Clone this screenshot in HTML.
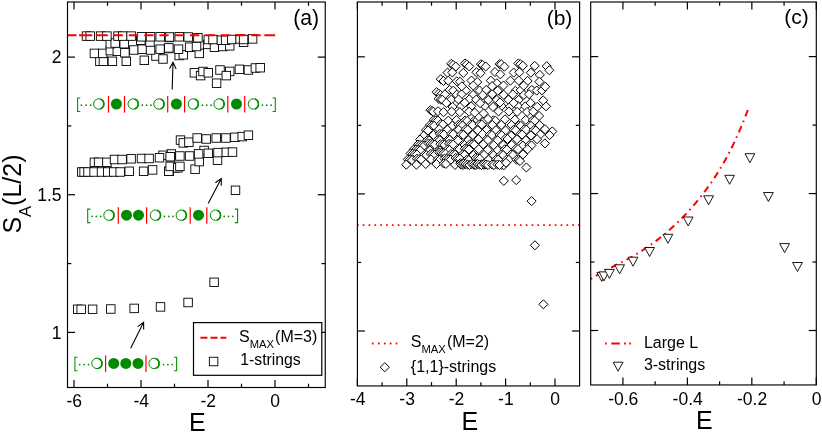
<!DOCTYPE html>
<html><head><meta charset="utf-8"><title>figure</title>
<style>html,body{margin:0;padding:0;background:#fff;}body{width:822px;height:433px;overflow:hidden;font-family:"Liberation Sans",sans-serif;}svg{display:block;will-change:transform;}</style></head>
<body>
<svg width="822" height="433" viewBox="0 0 822 433" font-family='"Liberation Sans", sans-serif'>
<rect width="822" height="433" fill="#fff"/>
<g fill="#fff" stroke="#000" stroke-width="0.9">
<rect x="73.45" y="305.05" width="8.5" height="8.5"/>
<rect x="76.95" y="305.05" width="8.5" height="8.5"/>
<rect x="88.35" y="305.05" width="8.5" height="8.5"/>
<rect x="106.55" y="304.75" width="8.5" height="8.5"/>
<rect x="129.95" y="304.15" width="8.5" height="8.5"/>
<rect x="156.25" y="302.65" width="8.5" height="8.5"/>
<rect x="183.85" y="298.25" width="8.5" height="8.5"/>
<rect x="209.85" y="278.05" width="8.5" height="8.5"/>
<rect x="231.25" y="186.05" width="8.5" height="8.5"/>
<rect x="95.65" y="57.05" width="8.5" height="8.5"/>
<rect x="99.15" y="57.05" width="8.5" height="8.5"/>
<rect x="108.15" y="57.05" width="8.5" height="8.5"/>
<rect x="122.05" y="57.05" width="8.5" height="8.5"/>
<rect x="140.05" y="56.05" width="8.5" height="8.5"/>
<rect x="151.75" y="51.75" width="8.5" height="8.5"/>
<rect x="158.75" y="54.75" width="8.5" height="8.5"/>
<rect x="90.15" y="49.15" width="8.5" height="8.5"/>
<rect x="98.45" y="49.15" width="8.5" height="8.5"/>
<rect x="106.05" y="46.35" width="8.5" height="8.5"/>
<rect x="113.05" y="47.05" width="8.5" height="8.5"/>
<rect x="120.65" y="48.45" width="8.5" height="8.5"/>
<rect x="129.65" y="45.75" width="8.5" height="8.5"/>
<rect x="137.95" y="44.95" width="8.5" height="8.5"/>
<rect x="146.25" y="45.75" width="8.5" height="8.5"/>
<rect x="155.95" y="44.95" width="8.5" height="8.5"/>
<rect x="164.25" y="44.25" width="8.5" height="8.5"/>
<rect x="106.05" y="39.45" width="8.5" height="8.5"/>
<rect x="110.95" y="38.75" width="8.5" height="8.5"/>
<rect x="119.95" y="39.45" width="8.5" height="8.5"/>
<rect x="136.55" y="35.95" width="8.5" height="8.5"/>
<rect x="145.75" y="37.75" width="8.5" height="8.5"/>
<rect x="82.25" y="31.85" width="8.5" height="8.5"/>
<rect x="85.95" y="31.85" width="8.5" height="8.5"/>
<rect x="96.35" y="31.85" width="8.5" height="8.5"/>
<rect x="102.65" y="31.85" width="8.5" height="8.5"/>
<rect x="113.75" y="31.85" width="8.5" height="8.5"/>
<rect x="118.55" y="31.85" width="8.5" height="8.5"/>
<rect x="126.85" y="31.85" width="8.5" height="8.5"/>
<rect x="137.25" y="32.55" width="8.5" height="8.5"/>
<rect x="146.25" y="32.55" width="8.5" height="8.5"/>
<rect x="155.95" y="32.55" width="8.5" height="8.5"/>
<rect x="164.95" y="33.25" width="8.5" height="8.5"/>
<rect x="174.95" y="51.25" width="8.5" height="8.5"/>
<rect x="179.05" y="50.55" width="8.5" height="8.5"/>
<rect x="195.05" y="49.15" width="8.5" height="8.5"/>
<rect x="164.55" y="43.65" width="8.5" height="8.5"/>
<rect x="174.25" y="44.95" width="8.5" height="8.5"/>
<rect x="185.35" y="42.95" width="8.5" height="8.5"/>
<rect x="192.25" y="42.25" width="8.5" height="8.5"/>
<rect x="203.35" y="40.15" width="8.5" height="8.5"/>
<rect x="210.25" y="42.95" width="8.5" height="8.5"/>
<rect x="218.55" y="42.25" width="8.5" height="8.5"/>
<rect x="225.45" y="41.55" width="8.5" height="8.5"/>
<rect x="239.35" y="38.05" width="8.5" height="8.5"/>
<rect x="165.25" y="32.75" width="8.5" height="8.5"/>
<rect x="174.95" y="32.55" width="8.5" height="8.5"/>
<rect x="183.95" y="32.75" width="8.5" height="8.5"/>
<rect x="193.65" y="33.55" width="8.5" height="8.5"/>
<rect x="204.05" y="35.25" width="8.5" height="8.5"/>
<rect x="208.75" y="35.25" width="8.5" height="8.5"/>
<rect x="217.15" y="35.95" width="8.5" height="8.5"/>
<rect x="221.35" y="35.95" width="8.5" height="8.5"/>
<rect x="227.55" y="35.25" width="8.5" height="8.5"/>
<rect x="235.85" y="34.65" width="8.5" height="8.5"/>
<rect x="239.35" y="35.25" width="8.5" height="8.5"/>
<rect x="248.35" y="34.65" width="8.5" height="8.5"/>
<rect x="212.35" y="78.95" width="8.5" height="8.5"/>
<rect x="190.15" y="68.55" width="8.5" height="8.5"/>
<rect x="196.35" y="71.35" width="8.5" height="8.5"/>
<rect x="198.75" y="67.25" width="8.5" height="8.5"/>
<rect x="204.05" y="68.55" width="8.5" height="8.5"/>
<rect x="215.75" y="65.75" width="8.5" height="8.5"/>
<rect x="225.45" y="67.15" width="8.5" height="8.5"/>
<rect x="222.05" y="71.35" width="8.5" height="8.5"/>
<rect x="235.15" y="65.05" width="8.5" height="8.5"/>
<rect x="244.15" y="65.75" width="8.5" height="8.5"/>
<rect x="251.15" y="63.75" width="8.5" height="8.5"/>
<rect x="255.95" y="63.45" width="8.5" height="8.5"/>
<rect x="77.45" y="167.75" width="8.5" height="8.5"/>
<rect x="79.85" y="167.75" width="8.5" height="8.5"/>
<rect x="83.75" y="167.75" width="8.5" height="8.5"/>
<rect x="89.85" y="167.75" width="8.5" height="8.5"/>
<rect x="97.25" y="167.75" width="8.5" height="8.5"/>
<rect x="103.45" y="167.75" width="8.5" height="8.5"/>
<rect x="109.55" y="167.75" width="8.5" height="8.5"/>
<rect x="115.95" y="167.75" width="8.5" height="8.5"/>
<rect x="124.95" y="167.05" width="8.5" height="8.5"/>
<rect x="139.35" y="167.05" width="8.5" height="8.5"/>
<rect x="148.35" y="165.65" width="8.5" height="8.5"/>
<rect x="164.95" y="167.05" width="8.5" height="8.5"/>
<rect x="171.15" y="163.55" width="8.5" height="8.5"/>
<rect x="90.15" y="158.05" width="8.5" height="8.5"/>
<rect x="94.35" y="158.05" width="8.5" height="8.5"/>
<rect x="102.65" y="158.05" width="8.5" height="8.5"/>
<rect x="110.25" y="155.25" width="8.5" height="8.5"/>
<rect x="117.85" y="155.25" width="8.5" height="8.5"/>
<rect x="126.85" y="154.55" width="8.5" height="8.5"/>
<rect x="137.25" y="154.25" width="8.5" height="8.5"/>
<rect x="144.85" y="154.25" width="8.5" height="8.5"/>
<rect x="167.05" y="149.75" width="8.5" height="8.5"/>
<rect x="158.75" y="151.05" width="8.5" height="8.5"/>
<rect x="155.25" y="153.45" width="8.5" height="8.5"/>
<rect x="166.35" y="152.45" width="8.5" height="8.5"/>
<rect x="164.55" y="167.05" width="8.5" height="8.5"/>
<rect x="165.95" y="162.15" width="8.5" height="8.5"/>
<rect x="173.55" y="163.55" width="8.5" height="8.5"/>
<rect x="175.65" y="162.15" width="8.5" height="8.5"/>
<rect x="190.85" y="164.95" width="8.5" height="8.5"/>
<rect x="213.25" y="155.95" width="8.5" height="8.5"/>
<rect x="194.95" y="157.35" width="8.5" height="8.5"/>
<rect x="165.95" y="152.45" width="8.5" height="8.5"/>
<rect x="175.65" y="151.75" width="8.5" height="8.5"/>
<rect x="185.35" y="151.75" width="8.5" height="8.5"/>
<rect x="199.85" y="146.25" width="8.5" height="8.5"/>
<rect x="194.35" y="149.65" width="8.5" height="8.5"/>
<rect x="204.05" y="149.05" width="8.5" height="8.5"/>
<rect x="213.75" y="148.35" width="8.5" height="8.5"/>
<rect x="222.05" y="148.05" width="8.5" height="8.5"/>
<rect x="228.25" y="147.85" width="8.5" height="8.5"/>
<rect x="176.25" y="135.85" width="8.5" height="8.5"/>
<rect x="179.05" y="138.65" width="8.5" height="8.5"/>
<rect x="184.65" y="137.95" width="8.5" height="8.5"/>
<rect x="192.95" y="133.75" width="8.5" height="8.5"/>
<rect x="201.95" y="134.75" width="8.5" height="8.5"/>
<rect x="211.95" y="133.75" width="8.5" height="8.5"/>
<rect x="221.65" y="133.75" width="8.5" height="8.5"/>
<rect x="230.65" y="133.05" width="8.5" height="8.5"/>
<rect x="237.95" y="132.35" width="8.5" height="8.5"/>
<rect x="244.15" y="130.95" width="8.5" height="8.5"/>
</g>
<path d="M67.0 35.23H76.5M79.1 35.23H92.3M96.2 35.23H107.8M113.4 35.23H122.9M128.8 35.23H138.2M144.3 35.23H153.5M159.4 35.23H168.6M174.9 35.23H184.2M190.0 35.23H199.3M205.3 35.23H214.8M220.6 35.23H229.8M236.0 35.23H245.4M251.3 35.23H260.7M264.4 35.23H275.1" stroke="#f00" stroke-width="2.1" fill="none"/>
<rect x="67.50" y="2.00" width="257.75" height="385.50" fill="none" stroke="#000" stroke-width="1.15"/>
<line x1="74.00" y1="387.50" x2="74.00" y2="380.00" stroke="#000" stroke-width="1.2" />
<line x1="74.00" y1="2.00" x2="74.00" y2="9.50" stroke="#000" stroke-width="1.2" />
<line x1="141.00" y1="387.50" x2="141.00" y2="380.00" stroke="#000" stroke-width="1.2" />
<line x1="141.00" y1="2.00" x2="141.00" y2="9.50" stroke="#000" stroke-width="1.2" />
<line x1="208.00" y1="387.50" x2="208.00" y2="380.00" stroke="#000" stroke-width="1.2" />
<line x1="208.00" y1="2.00" x2="208.00" y2="9.50" stroke="#000" stroke-width="1.2" />
<line x1="275.00" y1="387.50" x2="275.00" y2="380.00" stroke="#000" stroke-width="1.2" />
<line x1="275.00" y1="2.00" x2="275.00" y2="9.50" stroke="#000" stroke-width="1.2" />
<line x1="107.50" y1="387.50" x2="107.50" y2="383.70" stroke="#000" stroke-width="1.2" />
<line x1="107.50" y1="2.00" x2="107.50" y2="5.80" stroke="#000" stroke-width="1.2" />
<line x1="174.50" y1="387.50" x2="174.50" y2="383.70" stroke="#000" stroke-width="1.2" />
<line x1="174.50" y1="2.00" x2="174.50" y2="5.80" stroke="#000" stroke-width="1.2" />
<line x1="241.50" y1="387.50" x2="241.50" y2="383.70" stroke="#000" stroke-width="1.2" />
<line x1="241.50" y1="2.00" x2="241.50" y2="5.80" stroke="#000" stroke-width="1.2" />
<line x1="308.50" y1="387.50" x2="308.50" y2="383.70" stroke="#000" stroke-width="1.2" />
<line x1="308.50" y1="2.00" x2="308.50" y2="5.80" stroke="#000" stroke-width="1.2" />
<line x1="67.50" y1="332.40" x2="75.00" y2="332.40" stroke="#000" stroke-width="1.2" />
<line x1="325.25" y1="332.40" x2="317.75" y2="332.40" stroke="#000" stroke-width="1.2" />
<line x1="67.50" y1="194.75" x2="75.00" y2="194.75" stroke="#000" stroke-width="1.2" />
<line x1="325.25" y1="194.75" x2="317.75" y2="194.75" stroke="#000" stroke-width="1.2" />
<line x1="67.50" y1="57.10" x2="75.00" y2="57.10" stroke="#000" stroke-width="1.2" />
<line x1="325.25" y1="57.10" x2="317.75" y2="57.10" stroke="#000" stroke-width="1.2" />
<line x1="67.50" y1="263.58" x2="71.30" y2="263.58" stroke="#000" stroke-width="1.2" />
<line x1="325.25" y1="263.58" x2="321.45" y2="263.58" stroke="#000" stroke-width="1.2" />
<line x1="67.50" y1="125.93" x2="71.30" y2="125.93" stroke="#000" stroke-width="1.2" />
<line x1="325.25" y1="125.93" x2="321.45" y2="125.93" stroke="#000" stroke-width="1.2" />
<text x="74.30" y="406.90" font-size="17.5" text-anchor="middle" fill="#000" >-6</text>
<text x="141.30" y="406.90" font-size="17.5" text-anchor="middle" fill="#000" >-4</text>
<text x="208.30" y="406.90" font-size="17.5" text-anchor="middle" fill="#000" >-2</text>
<text x="275.00" y="406.90" font-size="17.5" text-anchor="middle" fill="#000" >0</text>
<text x="61.60" y="63.40" font-size="17.5" text-anchor="end" fill="#000" >2</text>
<text x="61.60" y="201.05" font-size="17.5" text-anchor="end" fill="#000" >1.5</text>
<text x="61.60" y="338.70" font-size="17.5" text-anchor="end" fill="#000" >1</text>
<text x="197.30" y="431.10" font-size="25" text-anchor="middle" fill="#000" >E</text>
<text x="306.20" y="24.80" font-size="21.2" text-anchor="middle" fill="#000" >(a)</text>
<text transform="translate(21.2 233.6) rotate(-90)" font-size="25" fill="#000">S<tspan font-size="16.5" dy="9.6">A</tspan><tspan dy="-9.6">(L/2)</tspan></text>
<path d="M172.20 89.40L173.00 62.30M176.12 68.90L173.00 62.30L169.50 68.70" fill="none" stroke="#000" stroke-width="1.1"/>
<path d="M208.20 203.50L221.30 178.50M221.22 185.80L221.30 178.50L215.35 182.72" fill="none" stroke="#000" stroke-width="1.1"/>
<path d="M130.70 348.30L143.60 322.30M143.68 329.60L143.60 322.30L137.74 326.65" fill="none" stroke="#000" stroke-width="1.1"/>
<path d="M80.30 97.90H77.60V111.40H80.30" fill="none" stroke="#008b00" stroke-width="1.05"/>
<circle cx="81.40" cy="105.20" r="0.85" fill="#008b00"/>
<circle cx="86.10" cy="105.20" r="0.85" fill="#008b00"/>
<circle cx="90.70" cy="105.20" r="0.85" fill="#008b00"/>
<circle cx="98.80" cy="104.00" r="5.2" fill="#fff" stroke="#008b00" stroke-width="1.0"/>
<path d="M100.30 99.10A5.2 5.2 0 0 1 100.30 108.90" fill="none" stroke="#008b00" stroke-width="1.6"/>
<line x1="108.50" y1="96.00" x2="108.50" y2="112.60" stroke="#f00" stroke-width="1.2"/>
<circle cx="116.40" cy="104.00" r="5.5" fill="#008b00"/>
<line x1="124.50" y1="96.00" x2="124.50" y2="112.60" stroke="#f00" stroke-width="1.2"/>
<circle cx="133.20" cy="104.00" r="5.2" fill="#fff" stroke="#008b00" stroke-width="1.0"/>
<path d="M134.70 99.10A5.2 5.2 0 0 1 134.70 108.90" fill="none" stroke="#008b00" stroke-width="1.6"/>
<circle cx="142.30" cy="105.20" r="0.85" fill="#008b00"/>
<circle cx="146.60" cy="105.20" r="0.85" fill="#008b00"/>
<circle cx="151.00" cy="105.20" r="0.85" fill="#008b00"/>
<circle cx="159.00" cy="104.00" r="5.2" fill="#fff" stroke="#008b00" stroke-width="1.0"/>
<path d="M160.50 99.10A5.2 5.2 0 0 1 160.50 108.90" fill="none" stroke="#008b00" stroke-width="1.6"/>
<line x1="167.70" y1="96.00" x2="167.70" y2="112.60" stroke="#f00" stroke-width="1.2"/>
<circle cx="176.40" cy="104.00" r="5.5" fill="#008b00"/>
<line x1="184.60" y1="96.00" x2="184.60" y2="112.60" stroke="#f00" stroke-width="1.2"/>
<circle cx="193.30" cy="104.00" r="5.2" fill="#fff" stroke="#008b00" stroke-width="1.0"/>
<path d="M194.80 99.10A5.2 5.2 0 0 1 194.80 108.90" fill="none" stroke="#008b00" stroke-width="1.6"/>
<circle cx="202.40" cy="105.20" r="0.85" fill="#008b00"/>
<circle cx="206.70" cy="105.20" r="0.85" fill="#008b00"/>
<circle cx="211.10" cy="105.20" r="0.85" fill="#008b00"/>
<circle cx="219.10" cy="104.00" r="5.2" fill="#fff" stroke="#008b00" stroke-width="1.0"/>
<path d="M220.60 99.10A5.2 5.2 0 0 1 220.60 108.90" fill="none" stroke="#008b00" stroke-width="1.6"/>
<line x1="227.80" y1="96.00" x2="227.80" y2="112.60" stroke="#f00" stroke-width="1.2"/>
<circle cx="236.50" cy="104.00" r="5.5" fill="#008b00"/>
<line x1="244.70" y1="96.00" x2="244.70" y2="112.60" stroke="#f00" stroke-width="1.2"/>
<circle cx="253.40" cy="104.00" r="5.2" fill="#fff" stroke="#008b00" stroke-width="1.0"/>
<path d="M254.90 99.10A5.2 5.2 0 0 1 254.90 108.90" fill="none" stroke="#008b00" stroke-width="1.6"/>
<circle cx="262.40" cy="105.20" r="0.85" fill="#008b00"/>
<circle cx="266.70" cy="105.20" r="0.85" fill="#008b00"/>
<circle cx="271.10" cy="105.20" r="0.85" fill="#008b00"/>
<path d="M272.60 97.90H275.30V111.40H272.60" fill="none" stroke="#008b00" stroke-width="1.05"/>
<path d="M90.40 209.10H87.70V222.60H90.40" fill="none" stroke="#008b00" stroke-width="1.05"/>
<circle cx="92.00" cy="216.40" r="0.85" fill="#008b00"/>
<circle cx="96.30" cy="216.40" r="0.85" fill="#008b00"/>
<circle cx="100.70" cy="216.40" r="0.85" fill="#008b00"/>
<circle cx="109.00" cy="215.20" r="5.2" fill="#fff" stroke="#008b00" stroke-width="1.0"/>
<path d="M110.50 210.30A5.2 5.2 0 0 1 110.50 220.10" fill="none" stroke="#008b00" stroke-width="1.6"/>
<line x1="118.30" y1="207.20" x2="118.30" y2="223.80" stroke="#f00" stroke-width="1.2"/>
<circle cx="126.50" cy="215.20" r="5.5" fill="#008b00"/>
<circle cx="138.50" cy="215.20" r="5.5" fill="#008b00"/>
<line x1="146.60" y1="207.20" x2="146.60" y2="223.80" stroke="#f00" stroke-width="1.2"/>
<circle cx="155.50" cy="215.20" r="5.2" fill="#fff" stroke="#008b00" stroke-width="1.0"/>
<path d="M157.00 210.30A5.2 5.2 0 0 1 157.00 220.10" fill="none" stroke="#008b00" stroke-width="1.6"/>
<circle cx="164.40" cy="216.40" r="0.85" fill="#008b00"/>
<circle cx="168.70" cy="216.40" r="0.85" fill="#008b00"/>
<circle cx="173.10" cy="216.40" r="0.85" fill="#008b00"/>
<circle cx="181.30" cy="215.20" r="5.2" fill="#fff" stroke="#008b00" stroke-width="1.0"/>
<path d="M182.80 210.30A5.2 5.2 0 0 1 182.80 220.10" fill="none" stroke="#008b00" stroke-width="1.6"/>
<line x1="190.20" y1="207.20" x2="190.20" y2="223.80" stroke="#f00" stroke-width="1.2"/>
<circle cx="198.50" cy="215.20" r="5.5" fill="#008b00"/>
<line x1="206.80" y1="207.20" x2="206.80" y2="223.80" stroke="#f00" stroke-width="1.2"/>
<circle cx="215.50" cy="215.20" r="5.2" fill="#fff" stroke="#008b00" stroke-width="1.0"/>
<path d="M217.00 210.30A5.2 5.2 0 0 1 217.00 220.10" fill="none" stroke="#008b00" stroke-width="1.6"/>
<circle cx="224.20" cy="216.40" r="0.85" fill="#008b00"/>
<circle cx="228.50" cy="216.40" r="0.85" fill="#008b00"/>
<circle cx="232.90" cy="216.40" r="0.85" fill="#008b00"/>
<path d="M234.90 209.10H237.60V222.60H234.90" fill="none" stroke="#008b00" stroke-width="1.05"/>
<path d="M77.60 357.30H74.90V370.80H77.60" fill="none" stroke="#008b00" stroke-width="1.05"/>
<circle cx="79.70" cy="364.60" r="0.85" fill="#008b00"/>
<circle cx="84.10" cy="364.60" r="0.85" fill="#008b00"/>
<circle cx="88.60" cy="364.60" r="0.85" fill="#008b00"/>
<circle cx="97.00" cy="363.40" r="5.2" fill="#fff" stroke="#008b00" stroke-width="1.0"/>
<path d="M98.50 358.50A5.2 5.2 0 0 1 98.50 368.30" fill="none" stroke="#008b00" stroke-width="1.6"/>
<line x1="105.60" y1="355.40" x2="105.60" y2="372.00" stroke="#f00" stroke-width="1.2"/>
<circle cx="113.70" cy="363.40" r="5.5" fill="#008b00"/>
<circle cx="125.80" cy="363.40" r="5.5" fill="#008b00"/>
<circle cx="138.00" cy="363.40" r="5.5" fill="#008b00"/>
<line x1="146.00" y1="355.40" x2="146.00" y2="372.00" stroke="#f00" stroke-width="1.2"/>
<circle cx="154.10" cy="363.40" r="5.2" fill="#fff" stroke="#008b00" stroke-width="1.0"/>
<path d="M155.60 358.50A5.2 5.2 0 0 1 155.60 368.30" fill="none" stroke="#008b00" stroke-width="1.6"/>
<circle cx="163.50" cy="364.60" r="0.85" fill="#008b00"/>
<circle cx="167.90" cy="364.60" r="0.85" fill="#008b00"/>
<circle cx="172.20" cy="364.60" r="0.85" fill="#008b00"/>
<path d="M173.90 357.30H176.60V370.80H173.90" fill="none" stroke="#008b00" stroke-width="1.05"/>
<rect x="193.5" y="322.6" width="128.3" height="52.7" fill="#fff" stroke="#000" stroke-width="1.2"/>
<path d="M200.4 337.8H207.4M210.5 337.8H217.5M220.5 337.8H226.3" stroke="#f00" stroke-width="2.1" fill="none"/>
<g fill="#fff" stroke="#000" stroke-width="0.9">
<rect x="209.35" y="357.25" width="8.5" height="8.5"/>
</g>
<text x="239" y="341.6" font-size="16" fill="#000">S<tspan font-size="11.2" dy="6.6">MAX</tspan><tspan dy="-6.6" dx="1.2">(M=3)</tspan></text>
<text x="240.20" y="365.20" font-size="15.8" text-anchor="start" fill="#000" >1-strings</text>
<g fill="#f00">
<rect x="356.95" y="224.23" width="1.7" height="1.7"/>
<rect x="362.77" y="224.23" width="1.7" height="1.7"/>
<rect x="368.59" y="224.23" width="1.7" height="1.7"/>
<rect x="374.41" y="224.23" width="1.7" height="1.7"/>
<rect x="380.23" y="224.23" width="1.7" height="1.7"/>
<rect x="386.05" y="224.23" width="1.7" height="1.7"/>
<rect x="391.87" y="224.23" width="1.7" height="1.7"/>
<rect x="397.69" y="224.23" width="1.7" height="1.7"/>
<rect x="403.51" y="224.23" width="1.7" height="1.7"/>
<rect x="409.33" y="224.23" width="1.7" height="1.7"/>
<rect x="415.15" y="224.23" width="1.7" height="1.7"/>
<rect x="420.97" y="224.23" width="1.7" height="1.7"/>
<rect x="426.79" y="224.23" width="1.7" height="1.7"/>
<rect x="432.61" y="224.23" width="1.7" height="1.7"/>
<rect x="438.43" y="224.23" width="1.7" height="1.7"/>
<rect x="444.25" y="224.23" width="1.7" height="1.7"/>
<rect x="450.07" y="224.23" width="1.7" height="1.7"/>
<rect x="455.89" y="224.23" width="1.7" height="1.7"/>
<rect x="461.71" y="224.23" width="1.7" height="1.7"/>
<rect x="467.53" y="224.23" width="1.7" height="1.7"/>
<rect x="473.35" y="224.23" width="1.7" height="1.7"/>
<rect x="479.17" y="224.23" width="1.7" height="1.7"/>
<rect x="484.99" y="224.23" width="1.7" height="1.7"/>
<rect x="490.81" y="224.23" width="1.7" height="1.7"/>
<rect x="496.63" y="224.23" width="1.7" height="1.7"/>
<rect x="502.45" y="224.23" width="1.7" height="1.7"/>
<rect x="508.27" y="224.23" width="1.7" height="1.7"/>
<rect x="514.09" y="224.23" width="1.7" height="1.7"/>
<rect x="519.91" y="224.23" width="1.7" height="1.7"/>
<rect x="525.73" y="224.23" width="1.7" height="1.7"/>
<rect x="531.55" y="224.23" width="1.7" height="1.7"/>
<rect x="537.37" y="224.23" width="1.7" height="1.7"/>
<rect x="543.19" y="224.23" width="1.7" height="1.7"/>
<rect x="549.01" y="224.23" width="1.7" height="1.7"/>
<rect x="554.83" y="224.23" width="1.7" height="1.7"/>
<rect x="560.65" y="224.23" width="1.7" height="1.7"/>
<rect x="566.47" y="224.23" width="1.7" height="1.7"/>
<rect x="572.29" y="224.23" width="1.7" height="1.7"/>
<rect x="578.11" y="224.23" width="1.7" height="1.7"/>
</g>
<g fill="#fff" stroke="#000" stroke-width="1.0">
<path d="M433.82 115.39L438.37 119.94L433.82 124.49L429.27 119.94Z"/>
<path d="M435.92 115.74L440.47 120.29L435.92 124.84L431.37 120.29Z"/>
<path d="M438.02 116.09L442.57 120.64L438.02 125.19L433.47 120.64Z"/>
<path d="M448.30 116.08L452.85 120.63L448.30 125.18L443.75 120.63Z"/>
<path d="M456.35 115.59L460.90 120.14L456.35 124.69L451.80 120.14Z"/>
<path d="M465.07 116.02L469.62 120.57L465.07 125.12L460.52 120.57Z"/>
<path d="M467.17 116.37L471.72 120.92L467.17 125.47L462.62 120.92Z"/>
<path d="M475.16 115.09L479.71 119.64L475.16 124.19L470.61 119.64Z"/>
<path d="M477.26 115.44L481.81 119.99L477.26 124.54L472.71 119.99Z"/>
<path d="M483.32 114.79L487.87 119.34L483.32 123.89L478.77 119.34Z"/>
<path d="M485.42 115.14L489.97 119.69L485.42 124.24L480.87 119.69Z"/>
<path d="M493.29 115.83L497.84 120.38L493.29 124.93L488.74 120.38Z"/>
<path d="M495.39 116.18L499.94 120.73L495.39 125.28L490.84 120.73Z"/>
<path d="M505.03 114.75L509.58 119.30L505.03 123.85L500.48 119.30Z"/>
<path d="M514.88 115.14L519.43 119.69L514.88 124.24L510.33 119.69Z"/>
<path d="M525.77 115.27L530.32 119.82L525.77 124.37L521.22 119.82Z"/>
<path d="M532.77 115.62L537.32 120.17L532.77 124.72L528.22 120.17Z"/>
<path d="M534.87 115.97L539.42 120.52L534.87 125.07L530.32 120.52Z"/>
<path d="M429.94 120.56L434.49 125.11L429.94 129.66L425.39 125.11Z"/>
<path d="M432.04 120.91L436.59 125.46L432.04 130.01L427.49 125.46Z"/>
<path d="M434.14 121.26L438.69 125.81L434.14 130.36L429.59 125.81Z"/>
<path d="M440.65 119.60L445.20 124.15L440.65 128.70L436.10 124.15Z"/>
<path d="M442.75 119.95L447.30 124.50L442.75 129.05L438.20 124.50Z"/>
<path d="M452.40 121.12L456.95 125.67L452.40 130.22L447.85 125.67Z"/>
<path d="M458.37 120.22L462.92 124.77L458.37 129.32L453.82 124.77Z"/>
<path d="M460.47 120.57L465.02 125.12L460.47 129.67L455.92 125.12Z"/>
<path d="M462.57 120.92L467.12 125.47L462.57 130.02L458.02 125.47Z"/>
<path d="M470.57 120.17L475.12 124.72L470.57 129.27L466.02 124.72Z"/>
<path d="M472.67 120.52L477.22 125.07L472.67 129.62L468.12 125.07Z"/>
<path d="M479.65 119.62L484.20 124.17L479.65 128.72L475.10 124.17Z"/>
<path d="M481.75 119.97L486.30 124.52L481.75 129.07L477.20 124.52Z"/>
<path d="M492.31 120.29L496.86 124.84L492.31 129.39L487.76 124.84Z"/>
<path d="M501.29 120.40L505.84 124.95L501.29 129.50L496.74 124.95Z"/>
<path d="M511.51 120.47L516.06 125.02L511.51 129.57L506.96 125.02Z"/>
<path d="M518.72 121.02L523.27 125.57L518.72 130.12L514.17 125.57Z"/>
<path d="M520.82 121.37L525.37 125.92L520.82 130.47L516.27 125.92Z"/>
<path d="M531.07 121.35L535.62 125.90L531.07 130.45L526.52 125.90Z"/>
<path d="M539.74 120.59L544.29 125.14L539.74 129.69L535.19 125.14Z"/>
<path d="M425.99 125.55L430.54 130.10L425.99 134.65L421.44 130.10Z"/>
<path d="M428.09 125.90L432.64 130.45L428.09 135.00L423.54 130.45Z"/>
<path d="M439.15 124.62L443.70 129.17L439.15 133.72L434.60 129.17Z"/>
<path d="M447.46 125.16L452.01 129.71L447.46 134.26L442.91 129.71Z"/>
<path d="M458.65 125.16L463.20 129.71L458.65 134.26L454.10 129.71Z"/>
<path d="M465.58 124.76L470.13 129.31L465.58 133.86L461.03 129.31Z"/>
<path d="M467.68 125.11L472.23 129.66L467.68 134.21L463.13 129.66Z"/>
<path d="M477.84 125.68L482.39 130.23L477.84 134.78L473.29 130.23Z"/>
<path d="M486.66 125.42L491.21 129.97L486.66 134.52L482.11 129.97Z"/>
<path d="M495.95 125.63L500.50 130.18L495.95 134.73L491.40 130.18Z"/>
<path d="M505.56 125.88L510.11 130.43L505.56 134.98L501.01 130.43Z"/>
<path d="M513.55 125.37L518.10 129.92L513.55 134.47L509.00 129.92Z"/>
<path d="M515.65 125.72L520.20 130.27L515.65 134.82L511.10 130.27Z"/>
<path d="M524.24 124.80L528.79 129.35L524.24 133.90L519.69 129.35Z"/>
<path d="M526.34 125.15L530.89 129.70L526.34 134.25L521.79 129.70Z"/>
<path d="M533.63 125.62L538.18 130.17L533.63 134.72L529.08 130.17Z"/>
<path d="M535.73 125.97L540.28 130.52L535.73 135.07L531.18 130.52Z"/>
<path d="M544.97 124.66L549.52 129.21L544.97 133.76L540.42 129.21Z"/>
<path d="M423.65 131.11L428.20 135.66L423.65 140.21L419.10 135.66Z"/>
<path d="M433.40 130.39L437.95 134.94L433.40 139.49L428.85 134.94Z"/>
<path d="M439.84 129.32L444.39 133.87L439.84 138.42L435.29 133.87Z"/>
<path d="M441.94 129.67L446.49 134.22L441.94 138.77L437.39 134.22Z"/>
<path d="M444.04 130.02L448.59 134.57L444.04 139.12L439.49 134.57Z"/>
<path d="M451.13 129.36L455.68 133.91L451.13 138.46L446.58 133.91Z"/>
<path d="M453.23 129.71L457.78 134.26L453.23 138.81L448.68 134.26Z"/>
<path d="M461.23 130.00L465.78 134.55L461.23 139.10L456.68 134.55Z"/>
<path d="M463.33 130.35L467.88 134.90L463.33 139.45L458.78 134.90Z"/>
<path d="M472.79 130.38L477.34 134.93L472.79 139.48L468.24 134.93Z"/>
<path d="M482.51 129.56L487.06 134.11L482.51 138.66L477.96 134.11Z"/>
<path d="M489.84 130.16L494.39 134.71L489.84 139.26L485.29 134.71Z"/>
<path d="M491.94 130.51L496.49 135.06L491.94 139.61L487.39 135.06Z"/>
<path d="M499.55 130.37L504.10 134.92L499.55 139.47L495.00 134.92Z"/>
<path d="M501.65 130.72L506.20 135.27L501.65 139.82L497.10 135.27Z"/>
<path d="M511.18 131.22L515.73 135.77L511.18 140.32L506.63 135.77Z"/>
<path d="M520.02 129.71L524.57 134.26L520.02 138.81L515.47 134.26Z"/>
<path d="M522.12 130.06L526.67 134.61L522.12 139.16L517.57 134.61Z"/>
<path d="M530.95 130.84L535.50 135.39L530.95 139.94L526.40 135.39Z"/>
<path d="M540.29 129.97L544.84 134.52L540.29 139.07L535.74 134.52Z"/>
<path d="M420.11 134.99L424.66 139.54L420.11 144.09L415.56 139.54Z"/>
<path d="M427.12 135.69L431.67 140.24L427.12 144.79L422.57 140.24Z"/>
<path d="M429.22 136.04L433.77 140.59L429.22 145.14L424.67 140.59Z"/>
<path d="M439.87 135.59L444.42 140.14L439.87 144.69L435.32 140.14Z"/>
<path d="M449.72 135.28L454.27 139.83L449.72 144.38L445.17 139.83Z"/>
<path d="M458.00 135.86L462.55 140.41L458.00 144.96L453.45 140.41Z"/>
<path d="M468.26 135.59L472.81 140.14L468.26 144.69L463.71 140.14Z"/>
<path d="M478.41 134.66L482.96 139.21L478.41 143.76L473.86 139.21Z"/>
<path d="M487.85 135.55L492.40 140.10L487.85 144.65L483.30 140.10Z"/>
<path d="M497.62 135.74L502.17 140.29L497.62 144.84L493.07 140.29Z"/>
<path d="M505.40 134.05L509.95 138.60L505.40 143.15L500.85 138.60Z"/>
<path d="M507.50 134.40L512.05 138.95L507.50 143.50L502.95 138.95Z"/>
<path d="M517.02 134.68L521.57 139.23L517.02 143.78L512.47 139.23Z"/>
<path d="M525.92 135.64L530.47 140.19L525.92 144.74L521.37 140.19Z"/>
<path d="M537.06 134.65L541.61 139.20L537.06 143.75L532.51 139.20Z"/>
<path d="M418.00 139.94L422.55 144.49L418.00 149.04L413.45 144.49Z"/>
<path d="M420.10 140.29L424.65 144.84L420.10 149.39L415.55 144.84Z"/>
<path d="M422.20 140.64L426.75 145.19L422.20 149.74L417.65 145.19Z"/>
<path d="M424.30 140.99L428.85 145.54L424.30 150.09L419.75 145.54Z"/>
<path d="M428.49 138.95L433.04 143.50L428.49 148.05L423.94 143.50Z"/>
<path d="M430.59 139.30L435.14 143.85L430.59 148.40L426.04 143.85Z"/>
<path d="M432.69 139.65L437.24 144.20L432.69 148.75L428.14 144.20Z"/>
<path d="M434.79 140.00L439.34 144.55L434.79 149.10L430.24 144.55Z"/>
<path d="M440.40 139.61L444.95 144.16L440.40 148.71L435.85 144.16Z"/>
<path d="M442.50 139.96L447.05 144.51L442.50 149.06L437.95 144.51Z"/>
<path d="M444.60 140.31L449.15 144.86L444.60 149.41L440.05 144.86Z"/>
<path d="M449.00 139.28L453.55 143.83L449.00 148.38L444.45 143.83Z"/>
<path d="M451.10 139.63L455.65 144.18L451.10 148.73L446.55 144.18Z"/>
<path d="M453.20 139.98L457.75 144.53L453.20 149.08L448.65 144.53Z"/>
<path d="M464.46 140.49L469.01 145.04L464.46 149.59L459.91 145.04Z"/>
<path d="M470.14 139.54L474.69 144.09L470.14 148.64L465.59 144.09Z"/>
<path d="M472.24 139.89L476.79 144.44L472.24 148.99L467.69 144.44Z"/>
<path d="M474.34 140.24L478.89 144.79L474.34 149.34L469.79 144.79Z"/>
<path d="M483.28 139.86L487.83 144.41L483.28 148.96L478.73 144.41Z"/>
<path d="M493.72 140.72L498.27 145.27L493.72 149.82L489.17 145.27Z"/>
<path d="M503.16 140.41L507.71 144.96L503.16 149.51L498.61 144.96Z"/>
<path d="M511.66 140.32L516.21 144.87L511.66 149.42L507.11 144.87Z"/>
<path d="M522.82 140.99L527.37 145.54L522.82 150.09L518.27 145.54Z"/>
<path d="M529.33 140.51L533.88 145.06L529.33 149.61L524.78 145.06Z"/>
<path d="M531.43 140.86L535.98 145.41L531.43 149.96L526.88 145.41Z"/>
<path d="M413.89 144.75L418.44 149.30L413.89 153.85L409.34 149.30Z"/>
<path d="M415.99 145.10L420.54 149.65L415.99 154.20L411.44 149.65Z"/>
<path d="M418.09 145.45L422.64 150.00L418.09 154.55L413.54 150.00Z"/>
<path d="M420.19 145.80L424.74 150.35L420.19 154.90L415.64 150.35Z"/>
<path d="M429.89 145.73L434.44 150.28L429.89 154.83L425.34 150.28Z"/>
<path d="M439.77 145.91L444.32 150.46L439.77 155.01L435.22 150.46Z"/>
<path d="M447.46 145.07L452.01 149.62L447.46 154.17L442.91 149.62Z"/>
<path d="M449.56 145.42L454.11 149.97L449.56 154.52L445.01 149.97Z"/>
<path d="M459.47 144.62L464.02 149.17L459.47 153.72L454.92 149.17Z"/>
<path d="M464.79 144.20L469.34 148.75L464.79 153.30L460.24 148.75Z"/>
<path d="M466.89 144.55L471.44 149.10L466.89 153.65L462.34 149.10Z"/>
<path d="M468.99 144.90L473.54 149.45L468.99 154.00L464.44 149.45Z"/>
<path d="M478.69 144.67L483.24 149.22L478.69 153.77L474.14 149.22Z"/>
<path d="M487.72 145.27L492.27 149.82L487.72 154.37L483.17 149.82Z"/>
<path d="M497.73 145.56L502.28 150.11L497.73 154.66L493.18 150.11Z"/>
<path d="M504.82 144.76L509.37 149.31L504.82 153.86L500.27 149.31Z"/>
<path d="M506.92 145.11L511.47 149.66L506.92 154.21L502.37 149.66Z"/>
<path d="M515.91 144.24L520.46 148.79L515.91 153.34L511.36 148.79Z"/>
<path d="M518.01 144.59L522.56 149.14L518.01 153.69L513.46 149.14Z"/>
<path d="M527.60 144.66L532.15 149.21L527.60 153.76L523.05 149.21Z"/>
<path d="M410.59 148.93L415.14 153.48L410.59 158.03L406.04 153.48Z"/>
<path d="M412.69 149.28L417.24 153.83L412.69 158.38L408.14 153.83Z"/>
<path d="M414.79 149.63L419.34 154.18L414.79 158.73L410.24 154.18Z"/>
<path d="M416.89 149.98L421.44 154.53L416.89 159.08L412.34 154.53Z"/>
<path d="M424.29 150.31L428.84 154.86L424.29 159.41L419.74 154.86Z"/>
<path d="M426.39 150.66L430.94 155.21L426.39 159.76L421.84 155.21Z"/>
<path d="M430.84 149.31L435.39 153.86L430.84 158.41L426.29 153.86Z"/>
<path d="M432.94 149.66L437.49 154.21L432.94 158.76L428.39 154.21Z"/>
<path d="M435.04 150.01L439.59 154.56L435.04 159.11L430.49 154.56Z"/>
<path d="M439.22 148.05L443.77 152.60L439.22 157.15L434.67 152.60Z"/>
<path d="M441.32 148.40L445.87 152.95L441.32 157.50L436.77 152.95Z"/>
<path d="M443.42 148.75L447.97 153.30L443.42 157.85L438.87 153.30Z"/>
<path d="M445.52 149.10L450.07 153.65L445.52 158.20L440.97 153.65Z"/>
<path d="M451.04 149.41L455.59 153.96L451.04 158.51L446.49 153.96Z"/>
<path d="M453.14 149.76L457.69 154.31L453.14 158.86L448.59 154.31Z"/>
<path d="M455.24 150.11L459.79 154.66L455.24 159.21L450.69 154.66Z"/>
<path d="M462.50 149.93L467.05 154.48L462.50 159.03L457.95 154.48Z"/>
<path d="M464.60 150.28L469.15 154.83L464.60 159.38L460.05 154.83Z"/>
<path d="M473.33 150.45L477.88 155.00L473.33 159.55L468.78 155.00Z"/>
<path d="M484.04 150.32L488.59 154.87L484.04 159.42L479.49 154.87Z"/>
<path d="M493.57 150.69L498.12 155.24L493.57 159.79L489.02 155.24Z"/>
<path d="M501.01 150.23L505.56 154.78L501.01 159.33L496.46 154.78Z"/>
<path d="M503.11 150.58L507.66 155.13L503.11 159.68L498.56 155.13Z"/>
<path d="M510.84 150.06L515.39 154.61L510.84 159.16L506.29 154.61Z"/>
<path d="M512.94 150.41L517.49 154.96L512.94 159.51L508.39 154.96Z"/>
<path d="M523.05 149.83L527.60 154.38L523.05 158.93L518.50 154.38Z"/>
<path d="M407.81 154.89L412.36 159.44L407.81 163.99L403.26 159.44Z"/>
<path d="M409.91 155.24L414.46 159.79L409.91 164.34L405.36 159.79Z"/>
<path d="M412.01 155.59L416.56 160.14L412.01 164.69L407.46 160.14Z"/>
<path d="M416.96 154.24L421.51 158.79L416.96 163.34L412.41 158.79Z"/>
<path d="M419.06 154.59L423.61 159.14L419.06 163.69L414.51 159.14Z"/>
<path d="M421.16 154.94L425.71 159.49L421.16 164.04L416.61 159.49Z"/>
<path d="M430.97 154.72L435.52 159.27L430.97 163.82L426.42 159.27Z"/>
<path d="M437.69 154.92L442.24 159.47L437.69 164.02L433.14 159.47Z"/>
<path d="M439.79 155.27L444.34 159.82L439.79 164.37L435.24 159.82Z"/>
<path d="M444.53 154.09L449.08 158.64L444.53 163.19L439.98 158.64Z"/>
<path d="M446.63 154.44L451.18 158.99L446.63 163.54L442.08 158.99Z"/>
<path d="M448.73 154.79L453.28 159.34L448.73 163.89L444.18 159.34Z"/>
<path d="M450.83 155.14L455.38 159.69L450.83 164.24L446.28 159.69Z"/>
<path d="M455.67 153.37L460.22 157.92L455.67 162.47L451.12 157.92Z"/>
<path d="M457.77 153.72L462.32 158.27L457.77 162.82L453.22 158.27Z"/>
<path d="M459.87 154.07L464.42 158.62L459.87 163.17L455.32 158.62Z"/>
<path d="M466.79 155.12L471.34 159.67L466.79 164.22L462.24 159.67Z"/>
<path d="M468.89 155.47L473.44 160.02L468.89 164.57L464.34 160.02Z"/>
<path d="M475.58 153.49L480.13 158.04L475.58 162.59L471.03 158.04Z"/>
<path d="M477.68 153.84L482.23 158.39L477.68 162.94L473.13 158.39Z"/>
<path d="M479.78 154.19L484.33 158.74L479.78 163.29L475.23 158.74Z"/>
<path d="M488.47 155.05L493.02 159.60L488.47 164.15L483.92 159.60Z"/>
<path d="M496.09 154.72L500.64 159.27L496.09 163.82L491.54 159.27Z"/>
<path d="M498.19 155.07L502.74 159.62L498.19 164.17L493.64 159.62Z"/>
<path d="M506.69 154.94L511.24 159.49L506.69 164.04L502.14 159.49Z"/>
<path d="M508.79 155.29L513.34 159.84L508.79 164.39L504.24 159.84Z"/>
<path d="M516.54 155.18L521.09 159.73L516.54 164.28L511.99 159.73Z"/>
<path d="M518.64 155.53L523.19 160.08L518.64 164.63L514.09 160.08Z"/>
<path d="M406.26 160.18L410.81 164.73L406.26 169.28L401.71 164.73Z"/>
<path d="M416.44 160.13L420.99 164.68L416.44 169.23L411.89 164.68Z"/>
<path d="M425.75 159.48L430.30 164.03L425.75 168.58L421.20 164.03Z"/>
<path d="M436.42 159.47L440.97 164.02L436.42 168.57L431.87 164.02Z"/>
<path d="M443.79 159.00L448.34 163.55L443.79 168.10L439.24 163.55Z"/>
<path d="M445.89 159.35L450.44 163.90L445.89 168.45L441.34 163.90Z"/>
<path d="M455.06 160.30L459.61 164.85L455.06 169.40L450.51 164.85Z"/>
<path d="M460.34 158.67L464.89 163.22L460.34 167.77L455.79 163.22Z"/>
<path d="M462.44 159.02L466.99 163.57L462.44 168.12L457.89 163.57Z"/>
<path d="M464.54 159.37L469.09 163.92L464.54 168.47L459.99 163.92Z"/>
<path d="M474.32 160.23L478.87 164.78L474.32 169.33L469.77 164.78Z"/>
<path d="M481.75 159.80L486.30 164.35L481.75 168.90L477.20 164.35Z"/>
<path d="M483.85 160.15L488.40 164.70L483.85 169.25L479.30 164.70Z"/>
<path d="M494.31 159.77L498.86 164.32L494.31 168.87L489.76 164.32Z"/>
<path d="M501.83 160.33L506.38 164.88L501.83 169.43L497.28 164.88Z"/>
<path d="M503.93 160.68L508.48 165.23L503.93 169.78L499.38 165.23Z"/>
<path d="M451.23 59.23L455.78 63.78L451.23 68.33L446.68 63.78Z"/>
<path d="M453.11 60.39L457.66 64.94L453.11 69.49L448.56 64.94Z"/>
<path d="M455.76 61.94L460.31 66.49L455.76 71.04L451.21 66.49Z"/>
<path d="M464.95 58.93L469.50 63.48L464.95 68.03L460.40 63.48Z"/>
<path d="M466.75 59.94L471.30 64.49L466.75 69.04L462.20 64.49Z"/>
<path d="M469.23 61.85L473.78 66.40L469.23 70.95L464.68 66.40Z"/>
<path d="M480.93 59.69L485.48 64.24L480.93 68.79L476.38 64.24Z"/>
<path d="M482.57 60.38L487.12 64.93L482.57 69.48L478.02 64.93Z"/>
<path d="M485.72 61.95L490.27 66.50L485.72 71.05L481.17 66.50Z"/>
<path d="M499.63 59.57L504.18 64.12L499.63 68.67L495.08 64.12Z"/>
<path d="M501.31 59.75L505.86 64.30L501.31 68.85L496.76 64.30Z"/>
<path d="M504.38 62.11L508.93 66.66L504.38 71.21L499.83 66.66Z"/>
<path d="M518.32 58.89L522.87 63.44L518.32 67.99L513.77 63.44Z"/>
<path d="M520.40 59.66L524.95 64.21L520.40 68.76L515.85 64.21Z"/>
<path d="M522.81 61.21L527.36 65.76L522.81 70.31L518.26 65.76Z"/>
<path d="M534.72 61.34L539.27 65.89L534.72 70.44L530.17 65.89Z"/>
<path d="M546.72 61.64L551.27 66.19L546.72 70.74L542.17 66.19Z"/>
<path d="M447.56 68.11L452.11 72.66L447.56 77.21L443.01 72.66Z"/>
<path d="M452.31 67.88L456.86 72.43L452.31 76.98L447.76 72.43Z"/>
<path d="M463.28 68.38L467.83 72.93L463.28 77.48L458.73 72.93Z"/>
<path d="M476.45 67.77L481.00 72.32L476.45 76.87L471.90 72.32Z"/>
<path d="M480.48 68.64L485.03 73.19L480.48 77.74L475.93 73.19Z"/>
<path d="M494.99 67.52L499.54 72.07L494.99 76.62L490.44 72.07Z"/>
<path d="M500.32 69.82L504.87 74.37L500.32 78.92L495.77 74.37Z"/>
<path d="M513.68 68.00L518.23 72.55L513.68 77.10L509.13 72.55Z"/>
<path d="M519.37 67.77L523.92 72.32L519.37 76.87L514.82 72.32Z"/>
<path d="M530.85 68.12L535.40 72.67L530.85 77.22L526.30 72.67Z"/>
<path d="M539.82 70.35L544.37 74.90L539.82 79.45L535.27 74.90Z"/>
<path d="M549.31 65.70L553.86 70.25L549.31 74.80L544.76 70.25Z"/>
<path d="M440.79 74.61L445.34 79.16L440.79 83.71L436.24 79.16Z"/>
<path d="M443.51 76.41L448.06 80.96L443.51 85.51L438.96 80.96Z"/>
<path d="M448.31 76.11L452.86 80.66L448.31 85.21L443.76 80.66Z"/>
<path d="M456.77 76.77L461.32 81.32L456.77 85.87L452.22 81.32Z"/>
<path d="M459.97 77.19L464.52 81.74L459.97 86.29L455.42 81.74Z"/>
<path d="M471.40 75.98L475.95 80.53L471.40 85.08L466.85 80.53Z"/>
<path d="M477.23 77.52L481.78 82.07L477.23 86.62L472.68 82.07Z"/>
<path d="M490.79 76.07L495.34 80.62L490.79 85.17L486.24 80.62Z"/>
<path d="M496.85 78.66L501.40 83.21L496.85 87.76L492.30 83.21Z"/>
<path d="M510.41 76.13L514.96 80.68L510.41 85.23L505.86 80.68Z"/>
<path d="M518.72 76.02L523.27 80.57L518.72 85.12L514.17 80.57Z"/>
<path d="M527.60 76.42L532.15 80.97L527.60 85.52L523.05 80.97Z"/>
<path d="M539.37 77.13L543.92 81.68L539.37 86.23L534.82 81.68Z"/>
<path d="M449.63 85.39L454.18 89.94L449.63 94.49L445.08 89.94Z"/>
<path d="M453.27 86.08L457.82 90.63L453.27 95.18L448.72 90.63Z"/>
<path d="M465.86 85.81L470.41 90.36L465.86 94.91L461.31 90.36Z"/>
<path d="M479.57 86.03L484.12 90.58L479.57 95.13L475.02 90.58Z"/>
<path d="M486.20 85.38L490.75 89.93L486.20 94.48L481.65 89.93Z"/>
<path d="M497.70 86.19L502.25 90.74L497.70 95.29L493.15 90.74Z"/>
<path d="M515.44 86.29L519.99 90.84L515.44 95.39L510.89 90.84Z"/>
<path d="M520.63 85.59L525.18 90.14L520.63 94.69L516.08 90.14Z"/>
<path d="M531.78 85.44L536.33 89.99L531.78 94.54L527.23 89.99Z"/>
<path d="M536.68 86.03L541.23 90.58L536.68 95.13L532.13 90.58Z"/>
<path d="M541.89 85.85L546.44 90.40L541.89 94.95L537.34 90.40Z"/>
<path d="M436.57 87.60L441.12 92.15L436.57 96.70L432.02 92.15Z"/>
<path d="M438.60 89.00L443.15 93.55L438.60 98.10L434.05 93.55Z"/>
<path d="M440.48 90.43L445.03 94.98L440.48 99.53L435.93 94.98Z"/>
<path d="M444.97 89.74L449.52 94.29L444.97 98.84L440.42 94.29Z"/>
<path d="M456.72 90.19L461.27 94.74L456.72 99.29L452.17 94.74Z"/>
<path d="M461.51 89.78L466.06 94.33L461.51 98.88L456.96 94.33Z"/>
<path d="M473.06 90.34L477.61 94.89L473.06 99.44L468.51 94.89Z"/>
<path d="M482.75 90.54L487.30 95.09L482.75 99.64L478.20 95.09Z"/>
<path d="M492.20 89.63L496.75 94.18L492.20 98.73L487.65 94.18Z"/>
<path d="M503.64 90.17L508.19 94.72L503.64 99.27L499.09 94.72Z"/>
<path d="M512.76 89.91L517.31 94.46L512.76 99.01L508.21 94.46Z"/>
<path d="M523.85 90.32L528.40 94.87L523.85 99.42L519.30 94.87Z"/>
<path d="M529.01 89.68L533.56 94.23L529.01 98.78L524.46 94.23Z"/>
<path d="M438.61 94.21L443.16 98.76L438.61 103.31L434.06 98.76Z"/>
<path d="M440.61 94.94L445.16 99.49L440.61 104.04L436.06 99.49Z"/>
<path d="M442.40 95.20L446.95 99.75L442.40 104.30L437.85 99.75Z"/>
<path d="M451.28 95.13L455.83 99.68L451.28 104.23L446.73 99.68Z"/>
<path d="M458.47 94.91L463.02 99.46L458.47 104.01L453.92 99.46Z"/>
<path d="M469.34 94.78L473.89 99.33L469.34 103.88L464.79 99.33Z"/>
<path d="M476.22 95.12L480.77 99.67L476.22 104.22L471.67 99.67Z"/>
<path d="M488.22 95.45L492.77 100.00L488.22 104.55L483.67 100.00Z"/>
<path d="M496.88 95.32L501.43 99.87L496.88 104.42L492.33 99.87Z"/>
<path d="M508.47 95.14L513.02 99.69L508.47 104.24L503.92 99.69Z"/>
<path d="M518.65 95.35L523.20 99.90L518.65 104.45L514.10 99.90Z"/>
<path d="M452.58 102.33L457.13 106.88L452.58 111.43L448.03 106.88Z"/>
<path d="M461.13 101.52L465.68 106.07L461.13 110.62L456.58 106.07Z"/>
<path d="M471.26 101.83L475.81 106.38L471.26 110.93L466.71 106.38Z"/>
<path d="M484.86 101.45L489.41 106.00L484.86 110.55L480.31 106.00Z"/>
<path d="M493.07 102.39L497.62 106.94L493.07 111.49L488.52 106.94Z"/>
<path d="M501.58 101.48L506.13 106.03L501.58 110.58L497.03 106.03Z"/>
<path d="M510.09 102.14L514.64 106.69L510.09 111.24L505.54 106.69Z"/>
<path d="M518.07 101.47L522.62 106.02L518.07 110.57L513.52 106.02Z"/>
<path d="M525.33 101.88L529.88 106.43L525.33 110.98L520.78 106.43Z"/>
<path d="M537.26 102.26L541.81 106.81L537.26 111.36L532.71 106.81Z"/>
<path d="M546.04 101.77L550.59 106.32L546.04 110.87L541.49 106.32Z"/>
<path d="M430.48 105.59L435.03 110.14L430.48 114.69L425.93 110.14Z"/>
<path d="M432.10 106.37L436.65 110.92L432.10 115.47L427.55 110.92Z"/>
<path d="M433.32 107.19L437.87 111.74L433.32 116.29L428.77 111.74Z"/>
<path d="M438.04 106.68L442.59 111.23L438.04 115.78L433.49 111.23Z"/>
<path d="M443.57 107.62L448.12 112.17L443.57 116.72L439.02 112.17Z"/>
<path d="M451.70 107.09L456.25 111.64L451.70 116.19L447.15 111.64Z"/>
<path d="M459.85 107.60L464.40 112.15L459.85 116.70L455.30 112.15Z"/>
<path d="M469.11 107.18L473.66 111.73L469.11 116.28L464.56 111.73Z"/>
<path d="M478.58 111.95L483.13 116.50L478.58 121.05L474.03 116.50Z"/>
<path d="M488.01 114.41L492.56 118.96L488.01 123.51L483.46 118.96Z"/>
<path d="M498.47 106.81L503.02 111.36L498.47 115.91L493.92 111.36Z"/>
<path d="M508.89 106.92L513.44 111.47L508.89 116.02L504.34 111.47Z"/>
<path d="M517.16 107.28L521.71 111.83L517.16 116.38L512.61 111.83Z"/>
<path d="M527.09 107.41L531.64 111.96L527.09 116.51L522.54 111.96Z"/>
<path d="M533.26 107.08L537.81 111.63L533.26 116.18L528.71 111.63Z"/>
<path d="M539.10 111.40L543.65 115.95L539.10 120.50L534.55 115.95Z"/>
<path d="M461.84 81.75L466.39 86.30L461.84 90.85L457.29 86.30Z"/>
<path d="M473.30 81.00L477.85 85.55L473.30 90.10L468.75 85.55Z"/>
<path d="M492.10 81.61L496.65 86.16L492.10 90.71L487.55 86.16Z"/>
<path d="M503.48 80.94L508.03 85.49L503.48 90.04L498.93 85.49Z"/>
<path d="M523.70 81.08L528.25 85.63L523.70 90.18L519.15 85.63Z"/>
<path d="M545.21 82.14L549.76 86.69L545.21 91.24L540.66 86.69Z"/>
<path d="M446.32 98.45L450.87 103.00L446.32 107.55L441.77 103.00Z"/>
<path d="M464.75 98.19L469.30 102.74L464.75 107.29L460.20 102.74Z"/>
<path d="M480.12 98.60L484.67 103.15L480.12 107.70L475.57 103.15Z"/>
<path d="M499.98 97.95L504.53 102.50L499.98 107.05L495.43 102.50Z"/>
<path d="M513.69 98.45L518.24 103.00L513.69 107.55L509.14 103.00Z"/>
<path d="M530.51 98.31L535.06 102.86L530.51 107.41L525.96 102.86Z"/>
<path d="M543.17 95.82L547.72 100.37L543.17 104.92L538.62 100.37Z"/>
<path d="M474.69 108.06L479.24 112.61L474.69 117.16L470.14 112.61Z"/>
<path d="M483.60 108.86L488.15 113.41L483.60 117.96L479.05 113.41Z"/>
<path d="M461.00 159.95L465.55 164.50L461.00 169.05L456.45 164.50Z"/>
<path d="M463.00 160.45L467.55 165.00L463.00 169.55L458.45 165.00Z"/>
<path d="M463.50 158.95L468.05 163.50L463.50 168.05L458.95 163.50Z"/>
<path d="M465.50 159.45L470.05 164.00L465.50 168.55L460.95 164.00Z"/>
<path d="M467.50 159.95L472.05 164.50L467.50 169.05L462.95 164.50Z"/>
<path d="M469.50 160.45L474.05 165.00L469.50 169.55L464.95 165.00Z"/>
<path d="M472.00 159.45L476.55 164.00L472.00 168.55L467.45 164.00Z"/>
<path d="M474.00 159.95L478.55 164.50L474.00 169.05L469.45 164.50Z"/>
<path d="M476.00 160.45L480.55 165.00L476.00 169.55L471.45 165.00Z"/>
<path d="M477.50 159.45L482.05 164.00L477.50 168.55L472.95 164.00Z"/>
<path d="M479.50 159.95L484.05 164.50L479.50 169.05L474.95 164.50Z"/>
<path d="M481.50 160.45L486.05 165.00L481.50 169.55L476.95 165.00Z"/>
<path d="M484.00 159.45L488.55 164.00L484.00 168.55L479.45 164.00Z"/>
<path d="M486.00 159.95L490.55 164.50L486.00 169.05L481.45 164.50Z"/>
<path d="M488.00 160.45L492.55 165.00L488.00 169.55L483.45 165.00Z"/>
<path d="M492.00 159.95L496.55 164.50L492.00 169.05L487.45 164.50Z"/>
<path d="M494.00 160.45L498.55 165.00L494.00 169.55L489.45 165.00Z"/>
<path d="M497.50 159.95L502.05 164.50L497.50 169.05L492.95 164.50Z"/>
<path d="M499.50 160.45L504.05 165.00L499.50 169.55L494.95 165.00Z"/>
<path d="M506.00 158.25L510.55 162.80L506.00 167.35L501.45 162.80Z"/>
<path d="M552.30 126.85L556.85 131.40L552.30 135.95L547.75 131.40Z"/>
<path d="M549.50 130.55L554.05 135.10L549.50 139.65L544.95 135.10Z"/>
<path d="M544.90 138.85L549.45 143.40L544.90 147.95L540.35 143.40Z"/>
<path d="M520.00 156.45L524.55 161.00L520.00 165.55L515.45 161.00Z"/>
<path d="M526.40 162.95L530.95 167.50L526.40 172.05L521.85 167.50Z"/>
<path d="M503.80 176.35L508.35 180.90L503.80 185.45L499.25 180.90Z"/>
<path d="M516.20 175.55L520.75 180.10L516.20 184.65L511.65 180.10Z"/>
<path d="M531.60 196.55L536.15 201.10L531.60 205.65L527.05 201.10Z"/>
<path d="M534.90 240.75L539.45 245.30L534.90 249.85L530.35 245.30Z"/>
<path d="M543.40 299.75L547.95 304.30L543.40 308.85L538.85 304.30Z"/>
</g>
<rect x="357.40" y="2.00" width="222.20" height="383.95" fill="none" stroke="#000" stroke-width="1.15"/>
<line x1="357.40" y1="385.95" x2="357.40" y2="378.45" stroke="#000" stroke-width="1.2" />
<line x1="357.40" y1="2.00" x2="357.40" y2="9.50" stroke="#000" stroke-width="1.2" />
<line x1="406.80" y1="385.95" x2="406.80" y2="378.45" stroke="#000" stroke-width="1.2" />
<line x1="406.80" y1="2.00" x2="406.80" y2="9.50" stroke="#000" stroke-width="1.2" />
<line x1="456.20" y1="385.95" x2="456.20" y2="378.45" stroke="#000" stroke-width="1.2" />
<line x1="456.20" y1="2.00" x2="456.20" y2="9.50" stroke="#000" stroke-width="1.2" />
<line x1="505.60" y1="385.95" x2="505.60" y2="378.45" stroke="#000" stroke-width="1.2" />
<line x1="505.60" y1="2.00" x2="505.60" y2="9.50" stroke="#000" stroke-width="1.2" />
<line x1="555.00" y1="385.95" x2="555.00" y2="378.45" stroke="#000" stroke-width="1.2" />
<line x1="555.00" y1="2.00" x2="555.00" y2="9.50" stroke="#000" stroke-width="1.2" />
<line x1="382.10" y1="385.95" x2="382.10" y2="382.15" stroke="#000" stroke-width="1.2" />
<line x1="382.10" y1="2.00" x2="382.10" y2="5.80" stroke="#000" stroke-width="1.2" />
<line x1="431.50" y1="385.95" x2="431.50" y2="382.15" stroke="#000" stroke-width="1.2" />
<line x1="431.50" y1="2.00" x2="431.50" y2="5.80" stroke="#000" stroke-width="1.2" />
<line x1="480.90" y1="385.95" x2="480.90" y2="382.15" stroke="#000" stroke-width="1.2" />
<line x1="480.90" y1="2.00" x2="480.90" y2="5.80" stroke="#000" stroke-width="1.2" />
<line x1="530.30" y1="385.95" x2="530.30" y2="382.15" stroke="#000" stroke-width="1.2" />
<line x1="530.30" y1="2.00" x2="530.30" y2="5.80" stroke="#000" stroke-width="1.2" />
<line x1="357.40" y1="331.00" x2="364.90" y2="331.00" stroke="#000" stroke-width="1.2" />
<line x1="579.60" y1="331.00" x2="572.10" y2="331.00" stroke="#000" stroke-width="1.2" />
<line x1="357.40" y1="193.90" x2="364.90" y2="193.90" stroke="#000" stroke-width="1.2" />
<line x1="579.60" y1="193.90" x2="572.10" y2="193.90" stroke="#000" stroke-width="1.2" />
<line x1="357.40" y1="56.80" x2="364.90" y2="56.80" stroke="#000" stroke-width="1.2" />
<line x1="579.60" y1="56.80" x2="572.10" y2="56.80" stroke="#000" stroke-width="1.2" />
<line x1="357.40" y1="262.45" x2="361.20" y2="262.45" stroke="#000" stroke-width="1.2" />
<line x1="579.60" y1="262.45" x2="575.80" y2="262.45" stroke="#000" stroke-width="1.2" />
<line x1="357.40" y1="125.35" x2="361.20" y2="125.35" stroke="#000" stroke-width="1.2" />
<line x1="579.60" y1="125.35" x2="575.80" y2="125.35" stroke="#000" stroke-width="1.2" />
<text x="357.70" y="404.80" font-size="17.5" text-anchor="middle" fill="#000" >-4</text>
<text x="407.10" y="404.80" font-size="17.5" text-anchor="middle" fill="#000" >-3</text>
<text x="456.50" y="404.80" font-size="17.5" text-anchor="middle" fill="#000" >-2</text>
<text x="505.90" y="404.80" font-size="17.5" text-anchor="middle" fill="#000" >-1</text>
<text x="555.00" y="404.80" font-size="17.5" text-anchor="middle" fill="#000" >0</text>
<text x="469.80" y="429.70" font-size="25" text-anchor="middle" fill="#000" >E</text>
<text x="559.50" y="24.60" font-size="21.0" text-anchor="middle" fill="#000" >(b)</text>
<g fill="#f00">
<rect x="371.90" y="342.60" width="1.8" height="1.8"/>
<rect x="377.90" y="342.60" width="1.8" height="1.8"/>
<rect x="383.90" y="342.60" width="1.8" height="1.8"/>
<rect x="389.70" y="342.60" width="1.8" height="1.8"/>
<rect x="395.60" y="342.60" width="1.8" height="1.8"/>
</g>
<g fill="#fff" stroke="#000" stroke-width="1.0">
<path d="M384.80 362.65L389.35 367.20L384.80 371.75L380.25 367.20Z"/>
</g>
<text x="410.8" y="346.6" font-size="16" fill="#000">S<tspan font-size="11.2" dy="6.6">MAX</tspan><tspan dy="-6.6" dx="1.2">(M=2)</tspan></text>
<text x="410.80" y="371.60" font-size="16" text-anchor="start" fill="#000" >{1,1}-strings</text>
<path d="M747.80 109.98L745.80 115.31L743.80 120.44L741.80 125.37L739.80 130.12L737.80 134.69L735.80 139.09L733.80 143.34L731.80 147.44L729.80 151.39L727.80 155.21L725.80 158.91L723.80 162.48L721.80 165.94L719.80 169.30L717.80 172.55L715.80 175.70L713.80 178.77L711.80 181.74L709.80 184.63L707.80 187.45L705.80 190.18L703.80 192.85L701.80 195.45L699.80 197.99L697.80 200.46L695.80 202.87L693.80 205.22L691.80 207.52L689.80 209.77L687.80 211.97L685.80 214.11L683.80 216.21L681.80 218.26L679.80 220.27L677.80 222.23L675.80 224.15L673.80 226.02L671.80 227.86L669.80 229.65L667.80 231.40L665.80 233.12L663.80 234.79L661.80 236.43L659.80 238.02L657.80 239.59L655.80 241.11L653.80 242.60L651.80 244.05L649.80 245.47L647.80 246.85L645.80 248.20L643.80 249.52L641.80 250.80L639.80 252.06L637.80 253.28L635.80 254.48L633.80 255.65L631.80 256.79L629.80 257.91L627.80 259.01L625.80 260.08L623.80 261.14L621.80 262.19L619.80 263.22L617.80 264.24L615.80 265.25L613.80 266.26L611.80 267.27L609.80 268.28L607.80 269.30L605.80 270.33L603.80 271.38L601.80 272.45L599.80 273.55L597.80 274.68L595.80 275.85L593.80 277.06L591.80 278.32L590.60 279.11" fill="none" stroke="#f00" stroke-width="2" stroke-dasharray="6.9 4.4 1.6 4.4"/>
<g fill="#fff" stroke="#000" stroke-width="0.9">
<path d="M596.90 272.40L606.70 272.40L601.80 281.40Z"/>
<path d="M599.00 271.90L608.80 271.90L603.90 280.90Z"/>
<path d="M604.50 269.40L614.30 269.40L609.40 278.40Z"/>
<path d="M614.70 264.80L624.50 264.80L619.60 273.80Z"/>
<path d="M628.10 257.20L637.90 257.20L633.00 266.20Z"/>
<path d="M644.70 247.50L654.50 247.50L649.60 256.50Z"/>
<path d="M663.00 234.30L672.80 234.30L667.90 243.30Z"/>
<path d="M683.30 217.00L693.10 217.00L688.20 226.00Z"/>
<path d="M703.70 195.80L713.50 195.80L708.60 204.80Z"/>
<path d="M724.70 175.30L734.50 175.30L729.60 184.30Z"/>
<path d="M745.00 153.70L754.80 153.70L749.90 162.70Z"/>
<path d="M763.50 192.50L773.30 192.50L768.40 201.50Z"/>
<path d="M779.70 243.60L789.50 243.60L784.60 252.60Z"/>
<path d="M792.60 262.50L802.40 262.50L797.50 271.50Z"/>
</g>
<rect x="590.70" y="2.00" width="225.60" height="382.95" fill="none" stroke="#000" stroke-width="1.15"/>
<line x1="622.92" y1="384.95" x2="622.92" y2="377.45" stroke="#000" stroke-width="1.2" />
<line x1="622.92" y1="2.00" x2="622.92" y2="9.50" stroke="#000" stroke-width="1.2" />
<line x1="687.38" y1="384.95" x2="687.38" y2="377.45" stroke="#000" stroke-width="1.2" />
<line x1="687.38" y1="2.00" x2="687.38" y2="9.50" stroke="#000" stroke-width="1.2" />
<line x1="751.84" y1="384.95" x2="751.84" y2="377.45" stroke="#000" stroke-width="1.2" />
<line x1="751.84" y1="2.00" x2="751.84" y2="9.50" stroke="#000" stroke-width="1.2" />
<line x1="816.30" y1="384.95" x2="816.30" y2="377.45" stroke="#000" stroke-width="1.2" />
<line x1="816.30" y1="2.00" x2="816.30" y2="9.50" stroke="#000" stroke-width="1.2" />
<line x1="655.15" y1="384.95" x2="655.15" y2="381.15" stroke="#000" stroke-width="1.2" />
<line x1="655.15" y1="2.00" x2="655.15" y2="5.80" stroke="#000" stroke-width="1.2" />
<line x1="719.61" y1="384.95" x2="719.61" y2="381.15" stroke="#000" stroke-width="1.2" />
<line x1="719.61" y1="2.00" x2="719.61" y2="5.80" stroke="#000" stroke-width="1.2" />
<line x1="784.07" y1="384.95" x2="784.07" y2="381.15" stroke="#000" stroke-width="1.2" />
<line x1="784.07" y1="2.00" x2="784.07" y2="5.80" stroke="#000" stroke-width="1.2" />
<line x1="590.70" y1="330.50" x2="598.20" y2="330.50" stroke="#000" stroke-width="1.2" />
<line x1="816.30" y1="330.50" x2="808.80" y2="330.50" stroke="#000" stroke-width="1.2" />
<line x1="590.70" y1="193.55" x2="598.20" y2="193.55" stroke="#000" stroke-width="1.2" />
<line x1="816.30" y1="193.55" x2="808.80" y2="193.55" stroke="#000" stroke-width="1.2" />
<line x1="590.70" y1="56.60" x2="598.20" y2="56.60" stroke="#000" stroke-width="1.2" />
<line x1="816.30" y1="56.60" x2="808.80" y2="56.60" stroke="#000" stroke-width="1.2" />
<line x1="590.70" y1="262.02" x2="594.50" y2="262.02" stroke="#000" stroke-width="1.2" />
<line x1="816.30" y1="262.02" x2="812.50" y2="262.02" stroke="#000" stroke-width="1.2" />
<line x1="590.70" y1="125.07" x2="594.50" y2="125.07" stroke="#000" stroke-width="1.2" />
<line x1="816.30" y1="125.07" x2="812.50" y2="125.07" stroke="#000" stroke-width="1.2" />
<text x="623.22" y="404.50" font-size="17.5" text-anchor="middle" fill="#000" >-0.6</text>
<text x="687.68" y="404.50" font-size="17.5" text-anchor="middle" fill="#000" >-0.4</text>
<text x="752.14" y="404.50" font-size="17.5" text-anchor="middle" fill="#000" >-0.2</text>
<text x="816.50" y="404.50" font-size="17.5" text-anchor="middle" fill="#000" >0</text>
<text x="704.30" y="429.00" font-size="25" text-anchor="middle" fill="#000" >E</text>
<text x="796.40" y="23.70" font-size="21.0" text-anchor="middle" fill="#000" >(c)</text>
<path d="M605 343.5H606.7M611.3 343.5H619.8M624.1 343.5H625.8M629.2 343.5H630.9" stroke="#f00" stroke-width="2" fill="none"/>
<g fill="#fff" stroke="#000" stroke-width="0.9">
<path d="M613.20 362.20L623.00 362.20L618.10 371.20Z"/>
</g>
<text x="643.90" y="347.80" font-size="16" text-anchor="start" fill="#000" >Large L</text>
<text x="643.90" y="370.00" font-size="16" text-anchor="start" fill="#000" >3-strings</text>
</svg>
</body></html>
